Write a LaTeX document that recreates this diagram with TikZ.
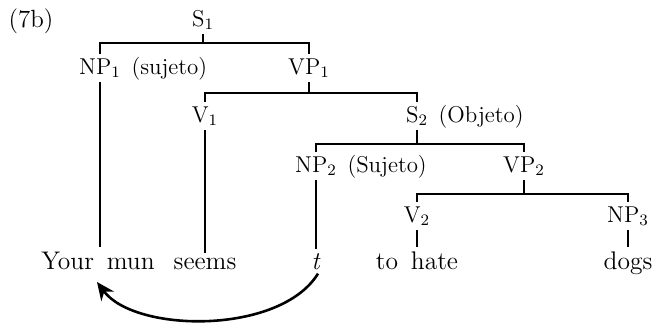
\documentclass[tikz,border=0pt]{standalone}
\usetikzlibrary{arrows.meta}

\tikzset{
  cat/.style={inner sep=2pt},
  leaf/.style={inner sep=2pt, anchor=base, font=\fontsize{12.8}{15}\selectfont},
  note/.style={inner sep=0pt, anchor=base west},
  branch/.style={line width=0.55pt},
  move/.style={line width=1.3pt, -{Stealth[length=9pt,width=8pt]}},
}

\begin{document}
\begin{tikzpicture}[x=0.5bp, y=-0.5bp, font=\fontsize{11.5}{14}\selectfont]
        \useasboundingbox (0,0) rectangle (653,326);

        \node[font=\fontsize{12.5}{15}\selectfont] at (31,21) {(7b)};

        % categories
        \node[cat] (s1) at (203,20) {S$_1$};
        \node[cat] (np1) at (100,68) {NP$_1$};
        \node[note] at ([xshift=3pt]np1.base east) {(sujeto)};
        \node[cat] (vp1) at (309,68) {VP$_1$};
        \node[cat] (v1) at (205,116) {V$_1$};
        \node[cat] (s2) at (417,116) {S$_2$};
        \node[note] at ([xshift=3pt]s2.base east) {(Objeto)};
        \node[cat] (np2) at (316,166) {NP$_2$};
        \node[note] at ([xshift=3pt]np2.base east) {(Sujeto)};
        \node[cat] (vp2) at (524,166) {VP$_2$};
        \node[cat] (v2) at (417,216) {V$_2$};
        \node[cat] (np3) at (628,216) {NP$_3$};

        % words
        \node[leaf] (your) at (98,269) {Your\hspace{0.5em}mun};
        \node[leaf] (seems) at (205,269) {seems};
        \node[leaf] (t) at (316,269) {\emph{t}};
        \node[leaf] (hate) at (417,269) {to\hspace{0.5em}hate};
        \node[leaf] (dogs) at (628,269) {dogs};

        % bars
        \coordinate (b1) at (0,43);
        \coordinate (b2) at (0,93);
        \coordinate (b3) at (0,144);
        \coordinate (b4) at (0,194);

        \draw[branch] (s1.south) -- (s1.south |- b1);
        \draw[branch] (np1.north) |- (vp1.north |- b1) -- (vp1.north);

        \draw[branch] (vp1.south) -- (vp1.south |- b2);
        \draw[branch] (v1.north) |- (s2.north |- b2) -- (s2.north);

        \draw[branch] (s2.south) -- (s2.south |- b3);
        \draw[branch] (np2.north) |- (vp2.north |- b3) -- (vp2.north);

        \draw[branch] (vp2.south) -- (vp2.south |- b4);
        \draw[branch] (v2.north) |- (np3.north |- b4) -- (np3.north);

        \draw[branch] (np1.south) -- (np1.south |- your.north);
        \draw[branch] (v1.south) -- (v1.south |- seems.north);
        \draw[branch] (np2.south) -- (np2.south |- t.north);
        \draw[branch] (v2.south) -- (v2.south |- hate.north);
        \draw[branch] (np3.south) -- (np3.south |- dogs.north);

        % movement of the subject
        \coordinate (landing) at (97,282);
        \draw[move] ([xshift=1pt]t.south) .. controls (280,335) and (135,333) .. (landing);

\end{tikzpicture}
\end{document}
